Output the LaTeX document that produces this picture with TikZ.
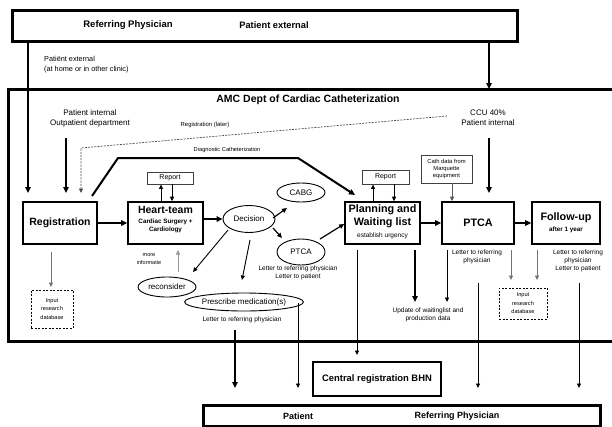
\documentclass[tikz,border=0pt]{standalone}
\usepackage{fontspec}
\setmainfont{Liberation Sans}
\usetikzlibrary{arrows.meta,shapes.geometric,calc}
\begin{document}
\begin{tikzpicture}[x=1pt,y=-1pt]
\tikzset{
 bigbox/.style={draw, line width=3pt, inner sep=0pt},
 mainbox/.style={draw, line width=1.6pt, inner sep=0pt, align=center},
 smallbox/.style={draw=black!75, line width=0.8pt, inner sep=0pt, align=center, font=\fontsize{5.8}{7}\selectfont},
 dbox/.style={draw, dash pattern=on 2pt off 1.5pt, line width=0.9pt, inner sep=0pt, align=center, font=\fontsize{5.6}{8.5}\selectfont},
 ell/.style={ellipse, draw, line width=0.9pt, inner sep=0pt, font=\fontsize{8}{9}\selectfont},
 lbl/.style={inner sep=0pt, align=center, font=\fontsize{6.5}{8.3}\selectfont},
 tarr/.style={line width=2pt, -{Triangle[length=6pt,width=5.5pt]}},
 marr/.style={line width=1.2pt, -{Triangle[length=5pt,width=4.5pt]}},
 narr/.style={line width=0.9pt, -{Triangle[length=4.5pt,width=4pt]}},
 garr/.style={narr, color=black!55},
}
\useasboundingbox (0,0) rectangle (612,426);
\fill[white] (0,0) rectangle (612,426);

% outer containers
\node[bigbox, minimum width=505, minimum height=31] (top) at (264.5,25.5) {};
\node[font=\fontsize{9.5}{11}\selectfont\bfseries] (tref) at (128,25) {Referring Physician};
\node[font=\fontsize{9.3}{11}\selectfont\bfseries] (tpat) at (274,25) {Patient external};
\draw[line width=3pt] (8,89) rectangle (615,341);
\node[font=\fontsize{10.5}{12}\selectfont\bfseries] (amc) at (308,100) {AMC Dept of Cardiac Catheterization};

\node[inner sep=0pt, align=left, anchor=west, font=\fontsize{7.3}{10}\selectfont] (pext) at (44,65) {Patiënt external\\(at home or in other clinic)};
\node[inner sep=0pt, align=center, font=\fontsize{8}{10}\selectfont] (pint) at (90,118) {Patient internal\\Outpatient department};
\node[inner sep=0pt, align=center, font=\fontsize{8}{10}\selectfont] (ccu) at (488,118) {CCU 40\%\\Patient internal};
\node[inner sep=0pt, font=\fontsize{5.9}{7}\selectfont] (tlater) at (205,125) {Registration (later)};
\node[inner sep=0pt, font=\fontsize{5.7}{7}\selectfont] (tdiag) at (227,150) {Diagnostic Catheterization};

% main boxes
\node[mainbox, minimum width=74, minimum height=42, font=\fontsize{10.5}{12}\selectfont\bfseries] (reg) at (60,223) {Registration};
\node[mainbox, minimum width=75, minimum height=42] (heart) at (165.5,223) {};
\node[inner sep=0pt, align=center, font=\fontsize{10.5}{12}\selectfont\bfseries] (theart) at (165.5,210) {Heart-team};
\node[inner sep=0pt, align=center, font=\fontsize{6.3}{8}\selectfont\bfseries] (theart2) at (165.5,226) {Cardiac Surgery +\\Cardiology};
\node[mainbox, minimum width=75, minimum height=42] (plan) at (382.5,223) {};
\node[inner sep=0pt, align=center, font=\fontsize{10.8}{13}\selectfont\bfseries] (tplan) at (382.5,216.5) {Planning and\\Waiting list};
\node[inner sep=0pt, font=\fontsize{6.5}{8}\selectfont] (tplan2) at (382.5,235.5) {establish urgency};
\node[mainbox, minimum width=72, minimum height=42, font=\fontsize{10.8}{12}\selectfont\bfseries] (ptca) at (478,223) {PTCA};
\node[mainbox, minimum width=68, minimum height=42] (fol) at (566,223) {};
\node[inner sep=0pt, font=\fontsize{10.8}{12}\selectfont\bfseries] (tfol) at (566,218) {Follow-up};
\node[inner sep=0pt, font=\fontsize{6.3}{8}\selectfont\bfseries] (tfol2) at (566,229.5) {after 1 year};

\node[smallbox, minimum width=46, minimum height=12, font=\fontsize{7}{8}\selectfont] (rep1) at (170,178) {Report};
\node[smallbox, minimum width=47, minimum height=14, font=\fontsize{7}{8}\selectfont] (rep2) at (385.5,177) {Report};
\node[smallbox, minimum width=51, minimum height=28] (cath) at (446.5,169) {Cath data from\\Marquette\\equipment};

% ellipses
\node[ell, minimum width=52, minimum height=27] (dec) at (249,219) {Decision};
\node[ell, minimum width=48, minimum height=19] (cabg) at (301,192.5) {CABG};
\node[ell, minimum width=48, minimum height=26] (pell) at (301,252) {PTCA};
\node[ell, minimum width=58, minimum height=20] (recon) at (167,287) {reconsider};
\node[ell, minimum width=94, minimum height=18] (presc) at (244,302) {Prescribe medication(s)};

% dashed boxes
\node[dbox, minimum width=42, minimum height=38] (inL) at (52,309) {Input\\research\\database};
\node[dbox, minimum width=48, minimum height=31] (inR) at (523,303.5) {Input\\research\\database};

% output boxes
\node[draw, line width=2.5pt, minimum width=128, minimum height=34, inner sep=0pt, font=\fontsize{9.4}{11}\selectfont\bfseries] (cent) at (377,379) {Central registration BHN};
\node[bigbox, minimum width=397, minimum height=21] (bot) at (401.5,415.5) {};
\node[font=\fontsize{9}{11}\selectfont\bfseries] (tbp) at (298,416) {Patient};
\node[font=\fontsize{9}{11}\selectfont\bfseries] (tbr) at (457,416) {Referring Physician};

% labels
\node[inner sep=0pt, align=center, font=\fontsize{5.5}{8}\selectfont] (more) at (149,259) {more\\informatie};
\node[lbl] (l1) at (298,273) {Letter to referring physician\\Letter to patient};
\node[lbl] (l2) at (242,320) {Letter to referring physician};
\node[lbl] (l3) at (428,314.5) {Update of waitinglist and\\production data};
\node[lbl] (l4) at (477,257) {Letter to referring\\physician};
\node[lbl] (l5) at (578,261) {Letter to referring\\physician\\Letter to patient};

% incoming arrows
\draw[tarr] (top.south -| 28,0) -- (28,193);
\draw[tarr] (top.south -| 489,0) -- (489,89);
\draw[tarr, line width=2.4pt] (66,138) -- (66,193);
\draw[tarr, line width=2.4pt] (489,138) -- (489,193);
\draw[narr, line width=0.7pt, color=black!70, dash pattern=on 2pt off 1.2pt] (447,116) -- (81,148) -- (81,193);
\draw[tarr] (92,196) -- (118,158) -- (298,158) -- (355,195);

% main flow
\draw[tarr, line width=2.4pt] (reg.east) -- (heart.west);
\draw[tarr, line width=2.4pt] (heart.east |- 0,219) -- (dec.west);
\draw[tarr, line width=2.4pt] (plan.east) -- (ptca.west);
\draw[tarr, line width=2.4pt] (ptca.east) -- (fol.west);

% report arrows
\draw[narr] (heart.north -| 161,0) -- (rep1.south -| 161,0);
\draw[narr] (rep1.south -| 172,0) -- (heart.north -| 172,0);
\draw[narr] (plan.north -| 373,0) -- (rep2.south -| 373,0);
\draw[narr] (rep2.south -| 394,0) -- (plan.north -| 394,0);
\draw[narr, color=black!65] (cath.south -| 452,0) -- (ptca.north -| 452,0);

% decision arrows
\draw[marr] (273,218) -- (287,208);
\draw[marr] (273,228) -- (282,238);
\draw[marr] (320,239) -- (plan.west |- 0,224);
\draw[narr] (228,230) -- (193,272);
\draw[narr] (250,240) -- (242,280);
\draw[narr, line width=0.5pt, color=black!40] (178,272) -- (178,250);
\draw[garr] (51,252) -- (51,287);

% outputs from planning / ptca / follow-up
\draw[narr] (357,250) -- (357,355);
\draw[tarr] (415,250) -- (415,302);
\draw[narr] (447,250) -- (447,302);
\draw[garr] (511,250) -- (511,280);
\draw[garr] (537,250) -- (537,280);

% outputs to patient / physician
\draw[tarr] (235,330) -- (235,388);
\draw[narr] (298,303) -- (298,388);
\draw[narr] (478,283) -- (478,388);
\draw[narr] (579,283) -- (579,388);
\end{tikzpicture}
\end{document}
